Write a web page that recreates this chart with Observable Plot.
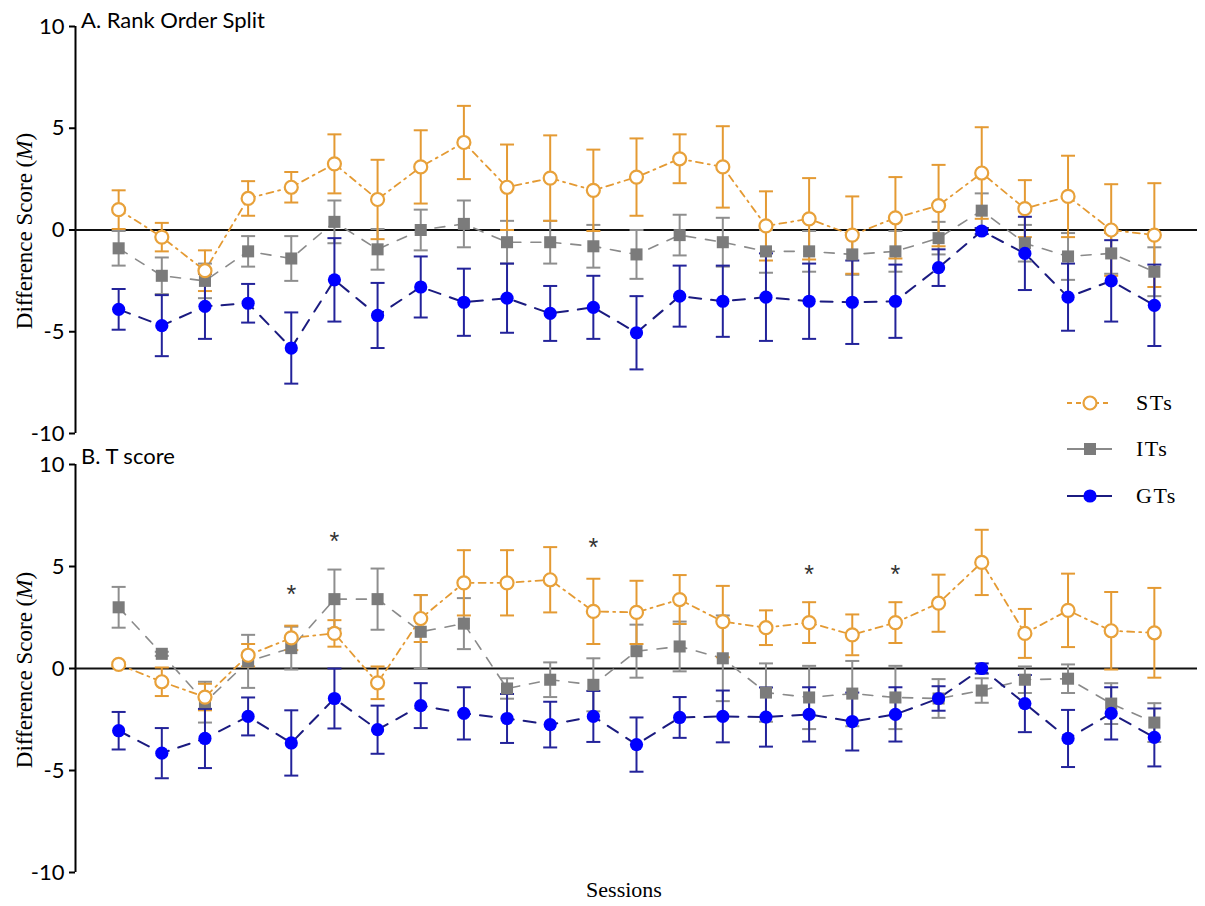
<!DOCTYPE html>
<html>
<head>
<meta charset="utf-8">
<script src="https://cdn.jsdelivr.net/npm/d3@7"></script>
<script src="https://cdn.jsdelivr.net/npm/@observablehq/plot@0.6"></script>
<style>
  body { margin: 0; background: #fff; }
  #wrap { position: relative; width: 1205px; height: 906px; overflow: hidden; }
  .panel { position: absolute; left: 0; }
  #overlay { position: absolute; left: 0; top: 0; pointer-events: none; }
</style>
</head>
<body>
<div id="wrap">
  <div id="panelA" class="panel" style="top:0px"></div>
  <div id="panelB" class="panel" style="top:438px"></div>
</div>
<script>
// ---------- data ----------
const sessions = [1,2,3,4,5,6,7,8,9,10,11,12,13,14,15,16,17,18,19,20,21,22,23,24,25];
const yTicks = [-10, -5, 0, 5, 10];
const groups = ["STs", "ITs", "GTs"];

// Panel A: Rank Order Split (mean, SEM)
const stA  = [1.0,-0.35,-2.0,1.55,2.1,3.25,1.5,3.1,4.3,2.1,2.55,1.95,2.6,3.5,3.1,0.2,0.55,-0.25,0.6,1.2,2.8,1.05,1.65,0.0,-0.25];
const stAe = [0.95,0.7,1.0,0.85,0.75,1.45,1.95,1.8,1.8,2.1,2.1,2.0,1.9,1.2,2.0,1.7,2.0,1.9,2.0,2.0,2.25,1.4,2.0,2.25,2.55];
const itA  = [-0.9,-2.25,-2.5,-1.05,-1.4,0.4,-0.95,0.0,0.3,-0.6,-0.6,-0.8,-1.2,-0.25,-0.6,-1.05,-1.05,-1.2,-1.05,-0.4,0.95,-0.65,-1.3,-1.15,-2.05];
const itAe = [0.85,0.9,0.85,0.75,1.1,1.05,1.0,1.0,1.15,1.05,1.05,1.05,1.2,1.0,1.2,1.05,1.0,1.0,1.0,0.8,0.85,0.9,1.15,1.0,1.2];
const gtA  = [-3.9,-4.7,-3.75,-3.6,-5.8,-2.45,-4.2,-2.8,-3.55,-3.35,-4.1,-3.8,-5.05,-3.25,-3.5,-3.3,-3.5,-3.55,-3.5,-1.85,-0.05,-1.15,-3.3,-2.5,-3.7];
const gtAe = [1.0,1.5,1.6,0.95,1.75,2.05,1.6,1.5,1.65,1.7,1.35,1.55,1.8,1.5,1.75,2.15,1.85,2.05,1.8,0.9,0.15,1.8,1.65,2.0,2.0];

// Panel B: T score (mean, SEM)
const stB  = [0.2,-0.65,-1.4,0.65,1.5,1.72,-0.7,2.45,4.2,4.2,4.35,2.8,2.75,3.38,2.3,2.0,2.25,1.65,2.25,3.2,5.2,1.72,2.85,1.85,1.75];
const stBe = [0.1,0.7,0.65,0.55,0.6,0.65,0.8,1.15,1.6,1.6,1.6,1.6,1.55,1.2,1.75,0.85,1.0,1.0,1.0,1.4,1.6,1.2,1.8,1.9,2.2];
const itB  = [3.0,0.72,-1.65,0.35,1.0,3.4,3.4,1.8,2.2,-0.98,-0.55,-0.8,0.85,1.08,0.5,-1.18,-1.42,-1.23,-1.42,-1.47,-1.08,-0.55,-0.5,-1.72,-2.65];
const itBe = [1.0,0.1,1.0,1.3,1.05,1.45,1.5,1.8,1.25,0.5,0.85,1.3,1.3,1.22,2.1,1.43,1.55,1.6,1.55,0.95,0.6,0.65,0.7,1.0,0.95];
const gtB  = [-3.05,-4.15,-3.43,-2.35,-3.65,-1.47,-3.0,-1.82,-2.2,-2.45,-2.75,-2.35,-3.73,-2.4,-2.35,-2.38,-2.25,-2.6,-2.25,-1.47,0.0,-1.72,-3.43,-2.2,-3.38];
const gtBe = [0.92,1.23,1.45,0.93,1.6,1.47,1.18,1.1,1.28,1.2,1.12,1.25,1.33,1.0,1.27,1.45,1.33,1.42,1.33,0.6,0.25,1.4,1.4,1.28,1.42];

// significance markers in panel B
const starSessions = [5, 6, 12, 17, 19];
const starY = [4.0, 6.6, 6.3, 5.0, 5.0];

// ---------- styles ----------
const C = {
  st: "#E8A13A", stBar: "#E49A33",
  it: "#7B7B7B", itBar: "#8E8E8E", itLine: "#8A8A8A",
  gt: "#0000FF", gtBar: "#23239A", gtLine: "#1B1B80"
};

const mk = (vals, errs) => sessions.map((s, i) => ({s, v: vals[i], e: errs[i]}));

const capSymbol = { draw(ctx) { ctx.moveTo(-7, 0); ctx.lineTo(7, 0); } };

function errorMarks(data, color) {
  return [
    Plot.ruleX(data, {x: "s", y1: d => d.v - d.e, y2: d => d.v + d.e, stroke: color, strokeWidth: 2}),
    Plot.dot(data, {x: "s", y: d => d.v + d.e, symbol: capSymbol, stroke: color, strokeWidth: 2, fill: "none"}),
    Plot.dot(data, {x: "s", y: d => d.v - d.e, symbol: capSymbol, stroke: color, strokeWidth: 2, fill: "none"})
  ];
}

function panel(st, it, gt, extra, marginBottom) {
  return Plot.plot({
    width: 1205, height: 440,
    marginLeft: 75, marginRight: 8, marginTop: 26, marginBottom,
    style: {fontFamily: "Lato, sans-serif", fontSize: "22px", color: "#000", background: "transparent", overflow: "visible"},
    x: {domain: [0, 26], axis: null},
    y: {domain: [-10, 10], axis: null},
    marks: [
      Plot.axisY({ticks: yTicks, tickFormat: d => String(d), tickSize: 6, tickPadding: 5, label: null, fontSize: 22, strokeWidth: 2, stroke: "#000"}),
      Plot.ruleX([0], {y1: -10, y2: 10, stroke: "#000", strokeWidth: 2}),
      Plot.ruleY([0], {stroke: "#111", strokeWidth: 2}),
      Plot.line(it, {x: "s", y: "v", stroke: C.itLine, strokeWidth: 1.6, strokeDasharray: "10,10"}),
      Plot.line(st, {x: "s", y: "v", stroke: C.stBar, strokeWidth: 1.8, strokeDasharray: "7,5,2,5"}),
      Plot.line(gt, {x: "s", y: "v", stroke: C.gtLine, strokeWidth: 2, strokeDasharray: "12,10"}),
      ...errorMarks(it, C.itBar),
      ...errorMarks(st, C.stBar),
      ...errorMarks(gt, C.gtBar),
      Plot.dot(it, {x: "s", y: "v", symbol: "square", r: 6.8, fill: C.it, stroke: "none"}),
      Plot.dot(st, {x: "s", y: "v", symbol: "circle", r: 6.5, fill: "#fff", stroke: C.st, strokeWidth: 2.2}),
      Plot.dot(gt, {x: "s", y: "v", symbol: "circle", r: 6.6, fill: C.gt, stroke: "none"}),
      ...extra
    ]
  });
}

const stars = starSessions.map((s, i) => ({s, v: starY[i]}));

document.getElementById("panelA").appendChild(
  panel(mk(stA, stAe), mk(itA, itAe), mk(gtA, gtAe), [], 7)
);
document.getElementById("panelB").appendChild(
  panel(mk(stB, stBe), mk(itB, itBe), mk(gtB, gtBe), [
    Plot.text(stars, {x: "s", y: "v", text: () => "*", fontSize: 25, fill: "#333", dy: 8, fontFamily: "Liberation Sans, sans-serif"})
  ], 6)
);

// ---------- overlay: titles, axis labels, legend ----------
const serif = "'Liberation Serif', 'DejaVu Serif', serif";
const sans = "Lato, sans-serif";
const legendRows = [
  {name: groups[0], y: 403},
  {name: groups[1], y: 449},
  {name: groups[2], y: 496}
];
const svg = d3.select("#wrap").append("svg")
  .attr("id", "overlay").attr("width", 1205).attr("height", 906);

svg.append("text").attr("x", 81).attr("y", 28).attr("font-family", sans).attr("font-size", 22).text("A. Rank Order Split");
svg.append("text").attr("x", 81).attr("y", 464).attr("font-family", sans).attr("font-size", 22).text("B. T score");

for (const cy of [231, 670]) {
  const t = svg.append("text")
    .attr("transform", `translate(32,${cy}) rotate(-90)`)
    .attr("text-anchor", "middle").attr("font-family", serif).attr("font-size", 23);
  t.append("tspan").text("Difference Score (");
  t.append("tspan").attr("font-style", "italic").text("M");
  t.append("tspan").text(")");
}

svg.append("text").attr("x", 624).attr("y", 897).attr("text-anchor", "middle")
  .attr("font-family", serif).attr("font-size", 22).text("Sessions");

// legend
const lg = svg.append("g");
const r0 = legendRows[0], r1 = legendRows[1], r2 = legendRows[2];
lg.append("line").attr("x1", 1067).attr("x2", 1112).attr("y1", r0.y).attr("y2", r0.y)
  .attr("stroke", C.stBar).attr("stroke-width", 1.8).attr("stroke-dasharray", "5,4");
lg.append("circle").attr("cx", 1090).attr("cy", r0.y).attr("r", 6.5).attr("fill", "#fff").attr("stroke", C.st).attr("stroke-width", 2.2);
lg.append("line").attr("x1", 1067).attr("x2", 1112).attr("y1", r1.y).attr("y2", r1.y)
  .attr("stroke", C.itLine).attr("stroke-width", 1.8);
lg.append("rect").attr("x", 1084).attr("y", r1.y - 6).attr("width", 12).attr("height", 12).attr("fill", C.it);
lg.append("line").attr("x1", 1067).attr("x2", 1112).attr("y1", r2.y).attr("y2", r2.y)
  .attr("stroke", C.gtLine).attr("stroke-width", 2);
lg.append("circle").attr("cx", 1090).attr("cy", r2.y).attr("r", 6.6).attr("fill", C.gt);
for (const row of legendRows) {
  lg.append("text").attr("x", 1136).attr("y", row.y + 7).attr("font-family", serif)
    .attr("font-size", 22).attr("letter-spacing", 1.5).text(row.name);
}
</script>
</body>
</html>
